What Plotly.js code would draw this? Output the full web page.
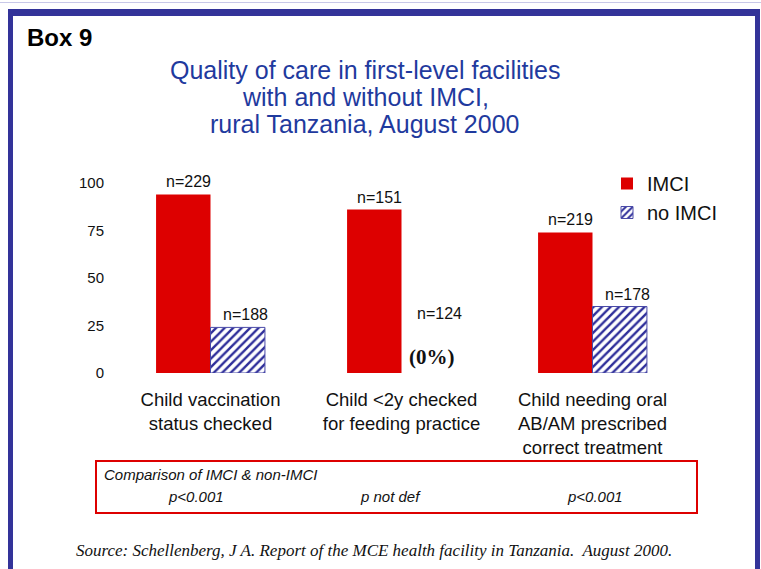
<!DOCTYPE html>
<html>
<head>
<meta charset="utf-8">
<script src="https://cdn.plot.ly/plotly-3.0.1.min.js"></script>
<style>html,body{margin:0;padding:0;background:#fff;}#chart{width:761px;height:569px;}</style>
</head>
<body>
<div id="chart"></div>
<script>
const categories = [
  'Child vaccination<br>status checked',
  'Child <2y checked<br>for feeding practice',
  'Child needing oral<br>AB/AM prescribed<br>correct treatment'
];
const imciValues = [94, 86, 74];
const noImciValues = [24, 0, 35];
const imciN = ['n=229', 'n=151', 'n=219'];
const noImciN = ['n=188', 'n=124', 'n=178'];
const pValues = ['p<0.001', 'p not def', 'p<0.001'];
const yTicks = [0, 25, 50, 75, 100];
const titleLines = ['Quality of care in first-level facilities', 'with and without IMCI,', 'rural Tanzania, August 2000'];

const W = 761, H = 569;
const M = {l: 115, r: 73, t: 183, b: 196};
const pw = W - M.l - M.r, ph = H - M.t - M.b;
const px = x => (x - M.l) / pw;
const py = y => (H - M.b - y) / ph;

const sans = 'Arial, "Liberation Sans", sans-serif';
const serif = '"Times New Roman", "Liberation Serif", serif';

const traces = [
  {type: 'bar', name: 'IMCI', x: categories, y: imciValues,
   marker: {color: '#DD0000', line: {width: 0}}, hoverinfo: 'skip'},
  {type: 'bar', name: 'no IMCI', x: categories, y: noImciValues,
   marker: {color: '#ffffff', line: {color: '#4a4aa8', width: noImciValues.map(v => v > 0 ? 1 : 0)},
            pattern: {shape: '/', fgcolor: '#2e2e9a', bgcolor: '#ffffff', size: 6, solidity: 0.4}},
   hoverinfo: 'skip'}
];

const annotations = [];
titleLines.forEach((t, i) => {
  annotations.push({x: px(365), y: py(70 + 27 * i), xref: 'paper', yref: 'paper', xanchor: 'center', yanchor: 'middle',
    text: t, showarrow: false, font: {family: sans, size: 25, color: '#1f3a9e'}});
});
categories.forEach((c, i) => {
  annotations.push({x: c, y: imciValues[i], xref: 'x', yref: 'y', text: imciN[i], showarrow: false,
    xshift: -22, yshift: 2, yanchor: 'bottom', font: {family: sans, size: 16, color: '#111'}});
  annotations.push({x: c, y: noImciValues[i] > 0 ? noImciValues[i] : 25, xref: 'x', yref: 'y', text: noImciN[i], showarrow: false,
    xshift: noImciValues[i] > 0 ? 35 : 38, yshift: 2, yanchor: 'bottom', font: {family: sans, size: 16, color: '#111'}});
  if (noImciValues[i] === 0) {
    annotations.push({x: c, y: 0, xref: 'x', yref: 'y', text: '<b>(0%)</b>', showarrow: false,
      xshift: 30, yshift: 2, yanchor: 'bottom', font: {family: serif, size: 21, color: '#111'}});
  }
  annotations.push({x: c, y: py(496), xref: 'x', yref: 'paper', text: '<i>' + pValues[i].replace('<', '&lt;') + '</i>', showarrow: false,
    xshift: [-15, -11, 2][i], yanchor: 'middle', font: {family: sans, size: 15, color: '#111'}});
});
annotations.push({x: px(102), y: py(474), xref: 'paper', yref: 'paper', xanchor: 'left', yanchor: 'middle',
  text: '<i>Comparison of IMCI &amp; non-IMCI</i>', showarrow: false, font: {family: sans, size: 15, color: '#111'}});
annotations.push({x: px(25), y: py(37), xref: 'paper', yref: 'paper', xanchor: 'left', yanchor: 'middle',
  text: '<b>Box 9</b>', showarrow: false, font: {family: sans, size: 24, color: '#000'}});
annotations.push({x: px(374), y: py(550), xref: 'paper', yref: 'paper', xanchor: 'center', yanchor: 'middle',
  text: '<i>Source: Schellenberg, J A. Report of the MCE health facility in Tanzania.  August 2000.</i>', showarrow: false,
  font: {family: serif, size: 17, color: '#111'}});

const frame = '#333399';
const shapes = [
  {type: 'rect', xref: 'paper', yref: 'paper', x0: px(0), x1: px(761), y0: py(2), y1: py(3), fillcolor: '#c8c8e8', line: {width: 0}},
  {type: 'rect', xref: 'paper', yref: 'paper', x0: px(8), x1: px(760), y0: py(9), y1: py(16), fillcolor: frame, line: {width: 0}},
  {type: 'rect', xref: 'paper', yref: 'paper', x0: px(8), x1: px(13), y0: py(9), y1: py(569), fillcolor: frame, line: {width: 0}},
  {type: 'rect', xref: 'paper', yref: 'paper', x0: px(755), x1: px(760), y0: py(9), y1: py(569), fillcolor: frame, line: {width: 0}},
  {type: 'rect', xref: 'paper', yref: 'paper', x0: px(96), x1: px(697), y0: py(461), y1: py(513), fillcolor: 'rgba(0,0,0,0)', line: {color: '#DD0000', width: 2}}
];

const layout = {
  width: W, height: H, margin: M,
  paper_bgcolor: '#ffffff', plot_bgcolor: '#ffffff',
  barmode: 'group', bargap: 0.43, bargroupgap: 0,
  font: {family: sans, color: '#111'},
  xaxis: {type: 'category', showgrid: false, zeroline: false, showline: false, ticks: '',
          ticklabelstandoff: 13, tickfont: {family: sans, size: 18.5, color: '#111'}},
  yaxis: {range: [0, 100], tickvals: yTicks, ticktext: yTicks.map(String), showgrid: false, zeroline: false, showline: false,
          ticks: '', ticklabelstandoff: 10, tickfont: {family: sans, size: 15, color: '#111'}},
  legend: {x: px(607), y: py(164), xanchor: 'left', yanchor: 'top', bgcolor: 'rgba(0,0,0,0)',
           font: {family: sans, size: 20, color: '#111'}, itemwidth: 30},
  showlegend: true,
  annotations: annotations,
  shapes: shapes
};

Plotly.newPlot('chart', traces, layout, {displayModeBar: false, staticPlot: true});
</script>
</body>
</html>
